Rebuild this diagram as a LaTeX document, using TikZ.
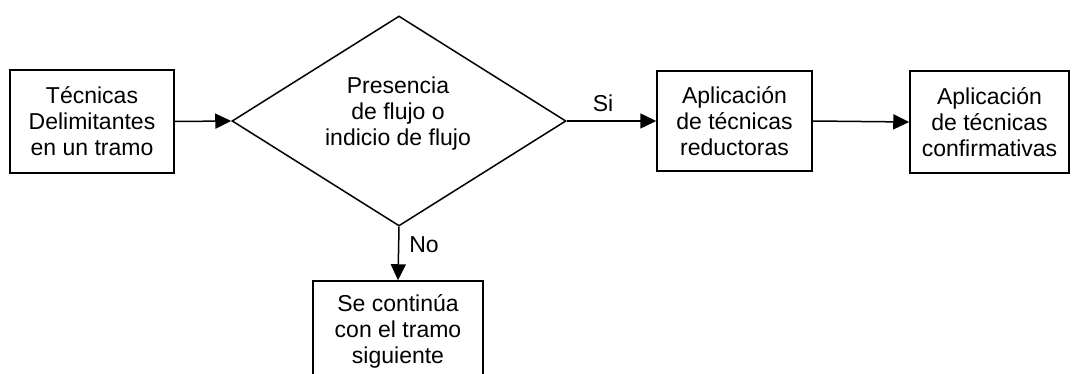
\documentclass[tikz,border=0pt]{standalone}
\usepackage{fontspec}
\setmainfont{Liberation Sans}
\usetikzlibrary{shapes.geometric,arrows.meta}
\begin{document}
\begin{tikzpicture}[x=1pt,y=-1pt,
  every node/.style={font=\fontsize{23}{26}\selectfont},
  box/.style={draw,line width=1.5pt,align=center,inner sep=0pt},
  conn/.style={line width=1.5pt,-{Triangle[length=16pt,width=15pt]}},
  lbl/.style={inner sep=0pt}]
\useasboundingbox (0,0) rectangle (1072,374);
\begin{scope}
\clip (0,0) rectangle (1072,374);
\node[box,minimum width=164pt,minimum height=103pt] (b1) at (92,121.5) {Técnicas\\Delimitantes\\en un tramo};
\node[draw,diamond,line width=1.5pt,minimum width=334pt,minimum height=210pt,inner sep=0pt] (d) at (399,121) {};
\node[align=center,inner sep=0pt] (dt) at (398,114) {Presencia\\de flujo o\\indicio de flujo};
\node[box,minimum width=155pt,minimum height=100pt] (b3) at (734.5,121) {Aplicación\\de técnicas\\reductoras};
\node[box,minimum width=159pt,minimum height=102pt] (b4) at (989.5,122) {Aplicación\\de técnicas\\confirmativas};
\node[box,minimum width=170pt,minimum height=100pt] (b5) at (398,331) {Se continúa\\con el tramo\\siguiente};
\draw[conn] (b1.east) -- (d.west);
\draw[conn] (d.east) -- (b3.west);
\draw[conn] (b3.east) -- (b4.west);
\draw[conn] (d.south) -- (b5.north);
\node[lbl] (si) at (603,103) {Si};
\node[lbl] (no) at (424,245) {No};
\end{scope}
\end{tikzpicture}
\end{document}
